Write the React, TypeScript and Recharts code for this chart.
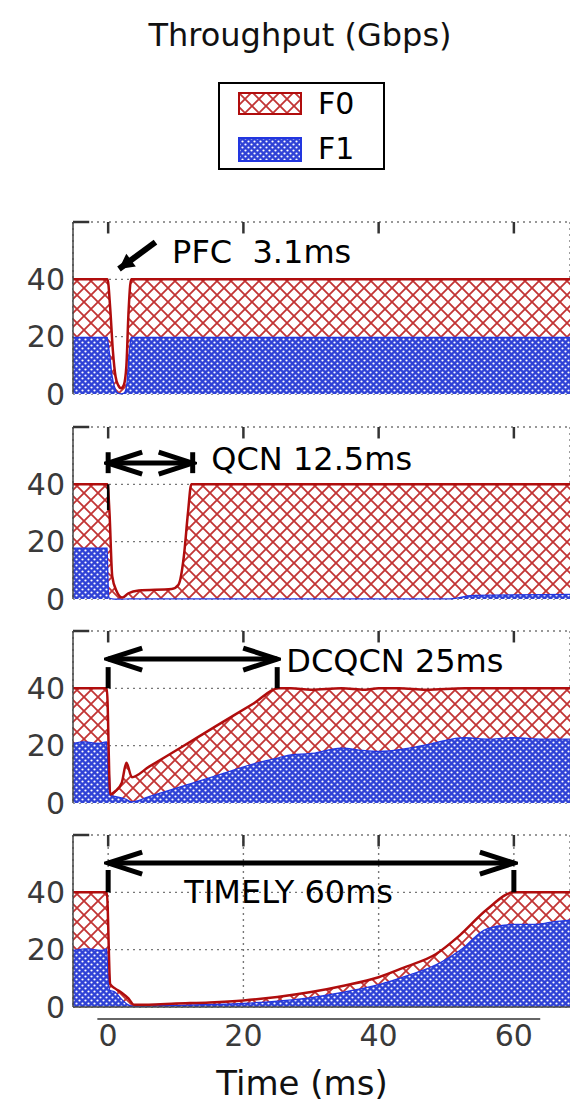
import React from "react";
import { AreaChart, Area, XAxis, YAxis, CartesianGrid, ReferenceLine, ReferenceDot } from "recharts";

const FONT = "'DejaVu Sans', Verdana, sans-serif";

const timeTicks = [0, 20, 40, 60];
const rateTicks = [0, 20, 40, 60];
const timeDomain: [number, number] = [-5.2, 68.3];

// PFC
const pfcTime = [-5.2, -0.1, 0.3, 0.7, 1.1, 1.5, 1.9, 2.3, 2.7, 3.0, 3.4, 68.3];
const pfcF1 = [20, 20, 14, 6, 2, 0.5, 0.3, 0.5, 4, 14, 20, 20];
const pfcF0 = [20, 20, 16, 9, 4, 2.5, 1.7, 2.5, 6, 14, 20, 20];

// QCN
const qcnTime = [-5.2, -0.1, 0.2, 0.6, 1.2, 2.1, 3, 4.5, 9.4, 10.4, 11.2, 11.8, 12.3, 50.5, 54, 68.3];
const qcnF1 = [18, 18, 0.5, 0.3, 0.2, 0.2, 0.3, 0.3, 0.3, 0.3, 0.3, 0.3, 0.3, 0.3, 1.5, 1.8];
const qcnF0 = [22, 22, 29.5, 7.7, 2.8, 0.3, 1.7, 2.7, 3.2, 4.7, 14.7, 29.7, 39.7, 39.7, 38.5, 38.2];

// DCQCN
const dcqcnTime = [-5.2, -3.5, -1.5, -0.2, 0.3, 1, 2, 2.7, 3.5, 6, 11, 16, 21.5, 25.2, 27, 30, 34.5, 38, 40, 43, 47, 52.8, 56, 60, 64, 68.3];
const dcqcnF1 = [21, 21.5, 21, 21.5, 3, 2.5, 2, 1.5, 0.6, 2.4, 6.1, 9.8, 13.9, 16, 17, 17.5, 19.4, 18.5, 18.2, 18.8, 20.5, 23, 22.5, 23, 22.5, 22.5];
const dcqcnF0 = [19, 18.5, 19, 18.5, 0, 1.5, 5, 12.5, 8.4, 10.2, 13.6, 17.1, 20.8, 24, 23, 22, 20.6, 21, 21.8, 21.2, 19, 17, 17.5, 17, 17.5, 17.5];

// TIMELY
const timelyTime = [-5.2, -3, -1, -0.2, 0.3, 1, 2, 3, 3.8, 6, 10, 15, 20, 25, 30, 35, 40, 44, 48.5, 52, 56, 60, 63, 66, 68.3];
const timelyF1 = [20, 20.5, 20, 20.5, 6, 5.5, 3, 1, 0.5, 0.6, 0.8, 1.1, 1.5, 2.3, 3.5, 5.5, 8, 11, 15, 20, 27.5, 29, 29, 30, 30.5];
const timelyF0 = [20, 19.5, 20, 19.5, 2, 1, 2, 2, 0.3, 0.2, 0.4, 0.5, 0.8, 1.2, 1.7, 2, 2.4, 3, 3.5, 5, 6.5, 11, 11, 10, 9.5];

const rows = (time: number[], f0: number[], f1: number[]) =>
  time.map((t, i) => ({ t, f0: f0[i], f1: f1[i] }));

const arrowLine = (w: number, start?: string, end?: string) => (p: any) => (
  <line
    x1={p.x1}
    y1={p.y1}
    x2={p.x2}
    y2={p.y2}
    stroke="#000"
    strokeWidth={w}
    markerStart={start ? `url(#${start})` : undefined}
    markerEnd={end ? `url(#${end})` : undefined}
  />
);

const note = (key: string, x: number, y: number, text: string) => (
  <ReferenceDot
    key={key}
    x={x}
    y={y}
    r={1}
    fill="none"
    stroke="none"
    label={{ value: text, position: "center", fontSize: 32, fill: "#000", fontFamily: FONT }}
  />
);

const span = (key: string, x0: number, x1: number, y: number, capLo: number, capHi: number) => [
  <ReferenceLine key={key + "a"} segment={[{ x: x0, y }, { x: x1, y }]} shape={arrowLine(5, "headOpen", "headOpen")} />,
  <ReferenceLine key={key + "b"} segment={[{ x: x0, y: capLo }, { x: x0, y: capHi }]} stroke="#000" strokeWidth={5} />,
  <ReferenceLine key={key + "c"} segment={[{ x: x1, y: capLo }, { x: x1, y: capHi }]} stroke="#000" strokeWidth={5} />,
];

const pfcNotes = [
  <ReferenceLine key="pa" segment={[{ x: 7, y: 53 }, { x: 1.6, y: 43.6 }]} shape={arrowLine(6, undefined, "headFill")} />,
  note("pt", 22.7, 49.6, "PFC\u00a0\u00a03.1ms"),
];
const qcnNotes = [
  ...span("q", 0, 12.5, 47.4, 43.9, 51.2),
  <ReferenceLine key="qd" segment={[{ x: 0, y: 40 }, { x: 0, y: 31 }]} stroke="#000" strokeWidth={2.5} />,
  note("qt", 30.1, 49.1, "QCN 12.5ms"),
];
const dcqcnNotes = [...span("d", 0, 25, 50.2, 40, 47.4), note("dt", 42.4, 49.8, "DCQCN 25ms")];
const timelyNotes = [
  ...span("t", 0, 60, 50.2, 40, 47.8),
  note("tt", 26.7, 40.1, "TIMELY 60ms"),
  <ReferenceLine
    key="tl"
    segment={[{ x: -1.6, y: -4.2 }, { x: 63.9, y: -4.2 }]}
    stroke="#333"
    strokeWidth={1.5}
    ifOverflow="visible"
  />,
];

const PLOT_H = 172;

function panel(top: number, data: any[], notes: any[], showTime: boolean) {
  const axisH = showTime ? 56 : 0;
  const bottom = showTime ? 0 : 20;
  return (
    <div style={{ position: "absolute", left: 0, top: top - 4 }}>
      <AreaChart
        width={570}
        height={PLOT_H + 4 + axisH + bottom}
        data={data}
        margin={{ top: 4, right: 0, bottom, left: 0 }}
      >
        <CartesianGrid stroke="#777" strokeDasharray="2 4" strokeWidth={1.4} />
        <XAxis
          dataKey="t"
          type="number"
          domain={timeDomain}
          allowDataOverflow
          ticks={timeTicks}
          interval={0}
          height={axisH}
          tick={showTime ? { fontSize: 30, fill: "#3a3a3a", fontFamily: FONT } : false}
          tickLine={false}
          tickMargin={12}
          axisLine={{ stroke: "#444", strokeWidth: 1.5 }}
        />
        <YAxis
          type="number"
          domain={[0, 60]}
          ticks={rateTicks}
          interval={0}
          width={73}
          tickLine={false}
          axisLine={{ stroke: "#444", strokeWidth: 1.5 }}
          tick={{ fontSize: 30, fill: "#3a3a3a", fontFamily: FONT }}
          tickFormatter={(v: number) => (v === 60 ? "" : String(v))}
        />
        <Area dataKey="f1" stackId="a" type="monotone" stroke="#2236e0" strokeWidth={2.5} fill="url(#dotBlue)" fillOpacity={1} isAnimationActive={false} />
        <Area dataKey="f0" stackId="a" type="monotone" stroke="#b00d0d" strokeWidth={2.5} fill="url(#hatchRed)" fillOpacity={1} isAnimationActive={false} />
        {timeTicks.map((t) => (
          <ReferenceLine key={"tk" + t} segment={[{ x: t, y: 60 }, { x: t, y: 56 }]} stroke="#333" strokeWidth={2.5} />
        ))}
        <ReferenceLine segment={[{ x: -5.2, y: 60 }, { x: -2.8, y: 60 }]} stroke="#333" strokeWidth={2.5} />
        {notes}
      </AreaChart>
    </div>
  );
}

export default function App() {
  return (
    <div style={{ position: "absolute", left: 0, top: 0, width: 570, height: 1104, fontFamily: FONT, background: "#fff", overflow: "hidden" }}>
      <svg width={0} height={0} style={{ position: "absolute" }}>
        <defs>
          <pattern id="hatchRed" width="14" height="14" patternUnits="userSpaceOnUse">
            <rect width="14" height="14" fill="#fff" />
            <path d="M-1,-1 L15,15 M15,-1 L-1,15" stroke="#c23434" strokeWidth="1.8" />
          </pattern>
          <pattern id="dotBlue" width="6" height="6" patternUnits="userSpaceOnUse">
            <rect width="6" height="6" fill="#2f42d6" />
            <circle cx="1.5" cy="1.5" r="1.1" fill="#fff" />
            <circle cx="4.5" cy="4.5" r="1.1" fill="#fff" />
          </pattern>
          <marker id="headOpen" viewBox="-42 -16 46 32" markerWidth="46" markerHeight="32" refX="0" refY="0" orient="auto-start-reverse" markerUnits="userSpaceOnUse">
            <path d="M-34,-11 L0,0 L-34,11" fill="none" stroke="#000" strokeWidth="5" />
          </marker>
          <marker id="headFill" viewBox="-16 -9 18 18" markerWidth="18" markerHeight="18" refX="0" refY="0" orient="auto" markerUnits="userSpaceOnUse">
            <path d="M-15,-8 L0,0 L-15,8 z" fill="#000" />
          </marker>
        </defs>
      </svg>

      <div style={{ position: "absolute", left: 0, top: 15, width: 600, textAlign: "center", fontSize: 32, lineHeight: "40px", color: "#111" }}>
        Throughput (Gbps)
      </div>

      <div style={{ position: "absolute", left: 218, top: 82, width: 167, height: 88, border: "2px solid #000", boxSizing: "border-box" }}>
        <svg width={64} height={23} style={{ position: "absolute", left: 18, top: 8 }}>
          <rect x={1} y={1} width={62} height={21} fill="url(#hatchRed)" stroke="#b00d0d" strokeWidth={2} />
        </svg>
        <div style={{ position: "absolute", left: 98, top: 0, fontSize: 30, lineHeight: "40px" }}>F0</div>
        <svg width={64} height={25} style={{ position: "absolute", left: 18, top: 53 }}>
          <rect x={1} y={1} width={62} height={23} fill="url(#dotBlue)" stroke="#2236e0" strokeWidth={2} />
        </svg>
        <div style={{ position: "absolute", left: 98, top: 45, fontSize: 30, lineHeight: "40px" }}>F1</div>
      </div>

      {panel(222, rows(pfcTime, pfcF0, pfcF1), pfcNotes, false)}
      {panel(427, rows(qcnTime, qcnF0, qcnF1), qcnNotes, false)}
      {panel(631, rows(dcqcnTime, dcqcnF0, dcqcnF1), dcqcnNotes, false)}
      {panel(835, rows(timelyTime, timelyF0, timelyF1), timelyNotes, true)}

      <div style={{ position: "absolute", left: 0, top: 1062, width: 604, textAlign: "center", fontSize: 34, lineHeight: "42px", color: "#111" }}>
        Time (ms)
      </div>
    </div>
  );
}
